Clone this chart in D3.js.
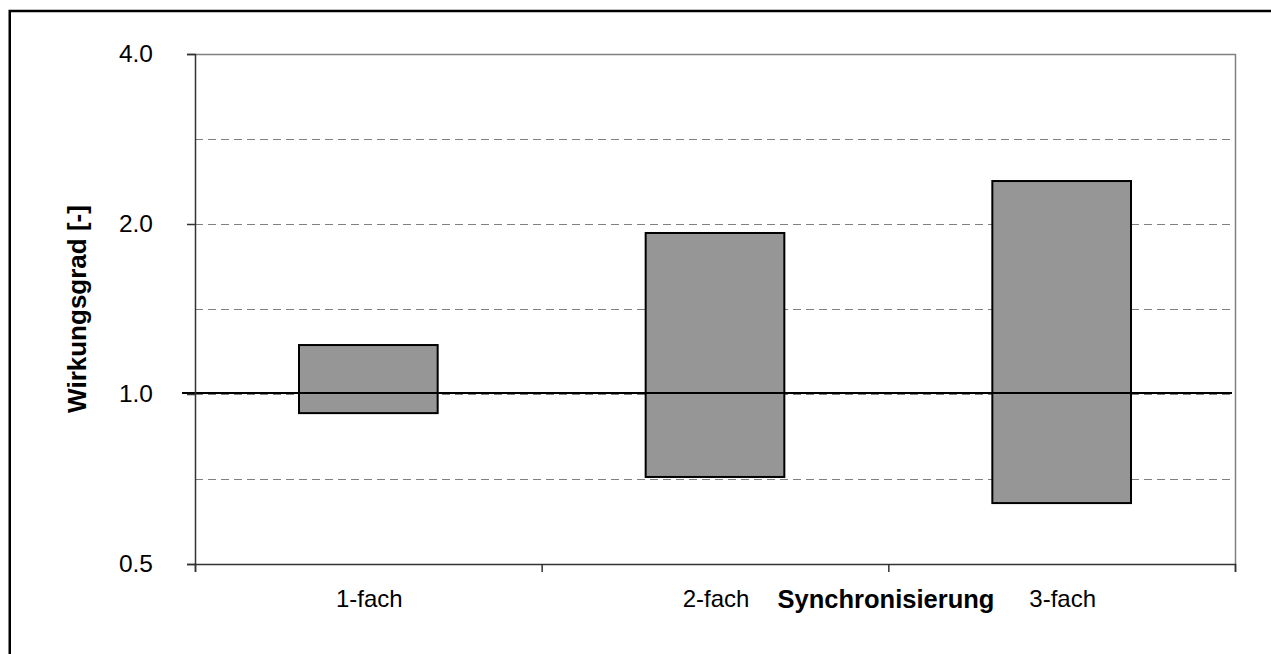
<!DOCTYPE html>
<html><head><meta charset="utf-8">
<script src="https://cdn.jsdelivr.net/npm/d3@7"></script>
<style>body{margin:0;background:#fff}svg{display:block}text{font-family:"Liberation Sans",Arial,sans-serif}</style>
</head><body>
<svg id="c" width="1271" height="654"></svg>
<script>
const categories = ["1-fach", "2-fach", "3-fach"];
const lowValues = [0.925, 0.713, 0.641];
const highValues = [1.221, 1.928, 2.383];
const gridValues = [0.5, Math.SQRT1_2, 1, Math.SQRT2, 2, 2*Math.SQRT2, 4];
const tickLabels = [0.5, 1.0, 2.0, 4.0];
const referenceValue = 1.0;
const xTitle = "Synchronisierung";
const yTitle = "Wirkungsgrad [-]";

const svg = d3.select("#c");
const L = 195, R = 1235, T = 54, B = 564;
const x = d3.scaleBand().domain(categories).range([L, R]).paddingInner(0).paddingOuter(0);
const y = d3.scaleLog().base(2).domain([0.5, 4]).range([B, T]);

// outer frame
svg.append("rect").attr("x", 9.75).attr("y", 11).attr("width", 1300).attr("height", 700)
  .attr("fill", "none").attr("stroke", "#000").attr("stroke-width", 2.5);

// gridlines
svg.append("g").selectAll("line").data(gridValues.filter(v => v > 0.5 && v < 4)).join("line")
  .attr("x1", L).attr("x2", R).attr("y1", d => Math.round(y(d)) + 0.5).attr("y2", d => Math.round(y(d)) + 0.5)
  .attr("stroke", "#808080").attr("stroke-width", 1.2).attr("stroke-dasharray", "8,5");

// plot frame top and right
svg.append("path").attr("d", `M${L},${T+0.5}H${R+0.5}V${B}`).attr("fill", "none").attr("stroke", "#808080").attr("stroke-width", 1.5);

// bars
svg.append("g").selectAll("rect").data(categories).join("rect")
  .attr("x", d => x(d) + x.bandwidth()*0.3)
  .attr("width", x.bandwidth()*0.4)
  .attr("y", (d, i) => y(highValues[i]))
  .attr("height", (d, i) => y(lowValues[i]) - y(highValues[i]))
  .attr("fill", "#969696").attr("stroke", "#000").attr("stroke-width", 2);

// reference line at 1.0
svg.append("line").attr("x1", 182).attr("x2", 1232)
  .attr("y1", y(referenceValue) - 1).attr("y2", y(referenceValue) - 1)
  .attr("stroke", "#000").attr("stroke-width", 2);

// y axis
const yAxis = d3.axisLeft(y).tickValues(tickLabels).tickFormat(d3.format(".1f")).tickSize(8).tickPadding(34);
const gy = svg.append("g").attr("transform", `translate(${L},0)`).call(yAxis);
gy.select(".domain").attr("stroke", "#333").attr("stroke-width", 1.5);
gy.selectAll(".tick line").attr("stroke", "#333").attr("stroke-width", 1.5);
gy.selectAll("text").attr("font-size", 24.5).attr("fill", "#000").attr("font-family", "Liberation Sans, Arial, sans-serif");

// x axis with ticks at category boundaries
const xb = d3.scaleLinear().domain([0, categories.length]).range([L, R]);
const gx = svg.append("g").attr("transform", `translate(0,${B})`)
  .call(d3.axisBottom(xb).tickValues(d3.range(categories.length + 1)).tickFormat("").tickSize(8));
gx.select(".domain").attr("stroke", "#333").attr("stroke-width", 1.5);
gx.selectAll(".tick line").attr("stroke", "#333").attr("stroke-width", 1.5);

// category labels
svg.append("g").selectAll("text").data(categories).join("text")
  .attr("x", d => x(d) + x.bandwidth()/2 + 1).attr("y", 607)
  .attr("text-anchor", "middle").attr("font-size", 24).attr("fill", "#000")
  .text(d => d);

// axis titles
svg.append("text").attr("x", 886).attr("y", 608).attr("text-anchor", "middle")
  .attr("font-size", 25.5).attr("font-weight", "bold").text(xTitle);
svg.append("text").attr("transform", "translate(86,309) rotate(-90)").attr("text-anchor", "middle")
  .attr("font-size", 26).attr("font-weight", "bold").text(yTitle);
</script>
</body></html>
